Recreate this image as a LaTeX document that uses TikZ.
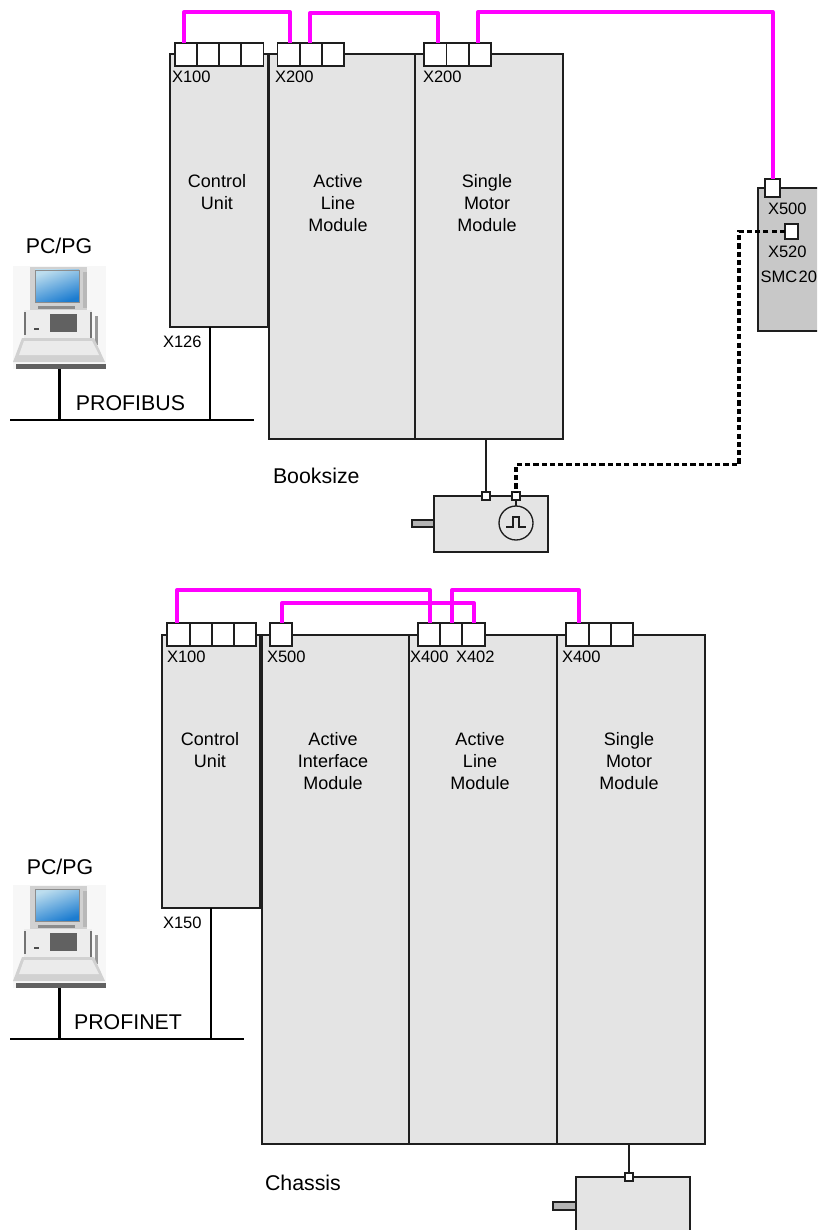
\documentclass[tikz,border=0pt]{standalone}
\usepackage{fontspec}
\setmainfont{Liberation Sans}
\definecolor{modfill}{HTML}{E4E4E4}
\definecolor{smcfill}{HTML}{C8C8C8}
\definecolor{edge}{HTML}{1E1E1E}
\definecolor{pinkline}{HTML}{FF00FF}
\definecolor{shaftfill}{HTML}{B4B4B4}
\definecolor{screentop}{HTML}{BCDDEE}
\definecolor{screenbot}{HTML}{1C7CD0}
\tikzset{
  x=0.75pt,y=-0.75pt,
  base/.style={inner sep=0pt,outer sep=0pt,anchor=center},
  module/.style={base,draw=edge,fill=modfill,line width=1.05pt},
  smcbox/.style={base,draw=edge,fill=smcfill,line width=1.05pt},
  cell/.style={base,draw=edge,fill=white,line width=1.1pt},
  shaftbox/.style={base,draw=edge,fill=shaftfill,line width=1.05pt},
  pinkwire/.style={draw=pinkline,line width=3pt,line join=round},
  blackwire/.style={draw=edge,line width=2.1pt},
  buswire/.style={draw=black,line width=1.6pt},
  dashwire/.style={draw=black,line width=2.5pt,dash pattern=on 3.9pt off 2.3pt},
  title/.style={inner sep=0pt,outer sep=0pt,align=center,font=\fontsize{13.5}{16.6}\selectfont},
  port/.style={inner sep=0pt,outer sep=0pt,anchor=west,font=\fontsize{12.4}{15}\selectfont},
  big/.style={inner sep=0pt,outer sep=0pt,font=\fontsize{16}{19}\selectfont},
  pt/.style={inner sep=0pt,outer sep=0pt,minimum size=0pt},
}
% name, x1, y1, x2, y2, style
\newcommand{\rectnode}[6]{%
  \pgfmathsetmacro{\cxx}{(#2+#4)/2}\pgfmathsetmacro{\cyy}{(#3+#5)/2}%
  \pgfmathsetmacro{\wdd}{(#4-#2)*0.75}\pgfmathsetmacro{\htt}{(#5-#3)*0.75}%
  \node[#6,minimum width=\wdd pt,minimum height=\htt pt] (#1) at (\cxx,\cyy) {};}
\newcommand{\pcicon}[3]{%
  \begin{scope}[shift={(#1,#2)}]
    \rectnode{#3}{13}{266}{106}{369}{base,fill=black!3}
    \fill[black!18] (30,267) rectangle (87,310);
    \fill[black!28] (83,272) rectangle (87,308);
    \shade[top color=screentop,bottom color=screenbot,shading angle=20] (35,270) rectangle (79,302);
    \draw[black!45,line width=.6pt] (35,270) rectangle (79,302);
    \fill[black!45] (38,306) rectangle (75,309);
    \fill[black!7] (24,310) rectangle (92,338);
    \fill[black!55] (24,312) rectangle (26,335);
    \fill[black!55] (90,312) rectangle (92,338);
    \fill[black!40] (95,316) rectangle (98,345);
    \fill[black!62] (50,314) rectangle (77,332);
    \fill[black!70] (34,328) rectangle (39,330);
    \fill[black!18] (22,338) -- (94,338) -- (105,362) -- (13,362) -- cycle;
    \fill[black!8] (24,341) -- (92,341) -- (99,355) -- (19,355) -- cycle;
    \fill[black!62] (16,364) rectangle (106,369);
  \end{scope}}
\begin{document}
\begin{tikzpicture}
\clip (0,0) rectangle (817,1230);
% ---- Booksize ----
\rectnode{cu1}{170}{54}{268}{327}{module}
\rectnode{alm1}{269}{54}{415}{439}{module}
\rectnode{smm1}{415}{54}{563}{439}{module}
\rectnode{smc}{758}{188}{840}{331}{smcbox}
\rectnode{a1}{175}{43}{197}{66}{cell}
\rectnode{a2}{197}{43}{219}{66}{cell}
\rectnode{a3}{219}{43}{241}{66}{cell}
\rectnode{a4}{241}{43}{263.5}{66}{cell}
\rectnode{b1}{277.5}{43}{300}{66}{cell}
\rectnode{b2}{300}{43}{322}{66}{cell}
\rectnode{b3}{322}{43}{344}{66}{cell}
\rectnode{c1}{424}{43}{446.5}{66}{cell}
\rectnode{c2}{446.5}{43}{469}{66}{cell}
\rectnode{c3}{469}{43}{491}{66}{cell}
\rectnode{sa}{765}{179}{780}{197}{cell}
\rectnode{sb}{785}{224}{798}{239}{cell}
\rectnode{shaft1}{412}{520}{434}{527}{shaftbox}
\rectnode{mot1}{434}{496}{548}{552}{module}
\rectnode{enc}{499}{506}{533}{540}{base}
\draw[edge,line width=1pt] (516,523) circle [radius=17];
\draw[edge,line width=1pt] (506,527) -- (513,527) -- (513,517) -- (519,517) -- (519,527) -- (526,527);
\rectnode{m1a}{482}{492}{490}{500}{cell}
\rectnode{m1b}{512}{492}{520}{500}{cell}
\draw[edge,line width=.8pt] (m1b.south) -- (enc.north);
\draw[pinkwire] (a1.north -| 184,0) -- ++(0,-31) -| (b1.north -| 290,0);
\draw[pinkwire] (b2.north -| 310,0) -- ++(0,-30) -| (c1.north -| 438,0);
\draw[pinkwire] (c3.north -| 478,0) -- ++(0,-31) -| (sa.north);
\draw[blackwire] (smm1.south -| m1a) -- (m1a.north);
\draw[dashwire] (sb.west) -- ++(-46,0) |- ++(-223,233) -| (m1b.north);
\node[pt] (bus1a) at (10,420) {};
\node[pt] (bus1b) at (254,420) {};
\draw[buswire] (bus1a) -- (bus1b);
\draw[buswire] (cu1.south -| 210,0) -- (bus1b -| 210,0);
\pcicon{0}{0}{pc1}
\draw[buswire] (pc1.south) -- (pc1.south |- bus1a);
\node[title] (t1) at (217,192) {Control\\Unit};
\node[title] (t2) at (338,203) {Active\\Line\\Module};
\node[title] (t3) at (487,203) {Single\\Motor\\Module};
\node[port] (l1) at (172,77) {X100};
\node[port] (l2) at (275,77) {X200};
\node[port] (l3) at (423,77) {X200};
\node[port] (l4) at (163,342) {X126};
\node[port] (l5) at (768,209) {X500};
\node[port] (l6) at (768,252) {X520};
\node[port] (l7) at (760.5,277) {SMC\hspace{1pt}20};
\node[big] (l8) at (59,246) {PC/PG};
\node[big] (l9) at (130.5,403) {PROFIBUS};
\node[big,anchor=west] (l10) at (273,476) {Booksize};
% ---- Chassis ----
\rectnode{cu2}{162}{635}{260}{908}{module}
\rectnode{aim}{262}{635}{409}{1144}{module}
\rectnode{alm2}{409}{635}{557}{1144}{module}
\rectnode{smm2}{557}{635}{705}{1144}{module}
\rectnode{d1}{167}{623}{190}{646}{cell}
\rectnode{d2}{190}{623}{212}{646}{cell}
\rectnode{d3}{212}{623}{234}{646}{cell}
\rectnode{d4}{234}{623}{256}{646}{cell}
\rectnode{e1}{270}{623}{292}{646}{cell}
\rectnode{f1}{418}{623}{440}{646}{cell}
\rectnode{f2}{440}{623}{462}{646}{cell}
\rectnode{f3}{462}{623}{485}{646}{cell}
\rectnode{g1}{566}{623}{589}{646}{cell}
\rectnode{g2}{589}{623}{611}{646}{cell}
\rectnode{g3}{611}{623}{633}{646}{cell}
\rectnode{shaft2}{553}{1202}{576}{1210}{shaftbox}
\rectnode{mot2}{576}{1177}{690}{1260}{module}
\rectnode{m2a}{625}{1173}{633}{1181}{cell}
\draw[pinkwire] (d1.north -| 177,0) -- ++(0,-33) -| (f1.north -| 430,0);
\draw[pinkwire] (e1.north -| 282,0) -- ++(0,-20) -| (f3.north -| 474,0);
\draw[pinkwire] (f2.north -| 452,0) -- ++(0,-33) -| (g1.north -| 579,0);
\draw[blackwire] (smm2.south -| m2a) -- (m2a.north);
\node[pt] (bus2a) at (10,1039) {};
\node[pt] (bus2b) at (244,1039) {};
\draw[buswire] (bus2a) -- (bus2b);
\draw[buswire] (cu2.south -| 211,0) -- (bus2b -| 211,0);
\pcicon{0}{619}{pc2}
\draw[buswire] (pc2.south) -- (pc2.south |- bus2a);
\node[title] (t4) at (210,750) {Control\\Unit};
\node[title] (t5) at (333,761) {Active\\Interface\\Module};
\node[title] (t6) at (480,761) {Active\\Line\\Module};
\node[title] (t7) at (629,761) {Single\\Motor\\Module};
\node[port] (n1) at (167,657) {X100};
\node[port] (n2) at (267,657) {X500};
\node[port] (n3) at (410,657) {X400};
\node[port] (n4) at (456,657) {X402};
\node[port] (n5) at (562,657) {X400};
\node[port] (n6) at (163,923) {X150};
\node[big] (n7) at (60,867) {PC/PG};
\node[big] (n8) at (128,1022) {PROFINET};
\node[big,anchor=west] (n9) at (265,1183) {Chassis};
\end{tikzpicture}
\end{document}
